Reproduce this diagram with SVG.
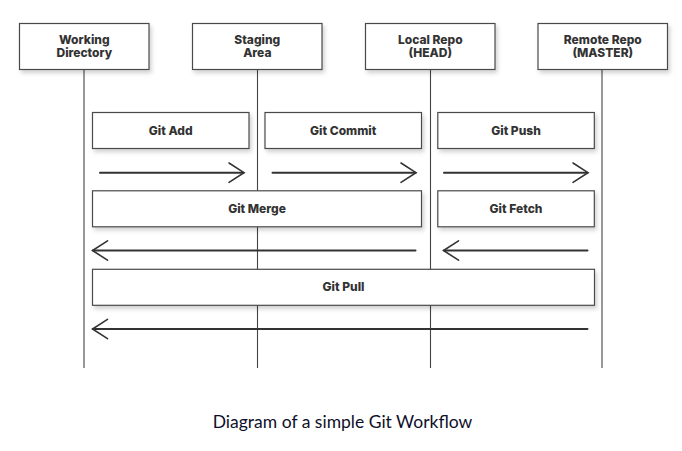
<svg xmlns="http://www.w3.org/2000/svg" width="682" height="451" viewBox="0 0 682 451">
<defs>
<filter id="sh" x="-10%" y="-30%" width="130%" height="180%">
<feDropShadow dx="2" dy="3" stdDeviation="2" flood-color="#000" flood-opacity="0.18"/>
</filter>
</defs>
<style>
.box{fill:#fff;stroke:#4a4a4a;stroke-width:1.2;filter:url(#sh)}
.t{font-family:Inter,"Liberation Sans",sans-serif;font-weight:800;font-size:12px;fill:#333;text-anchor:middle}
.life{stroke:#444;stroke-width:1.1;fill:none}
.arr{stroke:#333;stroke-width:2;fill:none;stroke-linecap:round}
.head{stroke:#333;stroke-width:1.6;fill:none;stroke-linecap:round;stroke-linejoin:miter}
.cap{font-family:Lato,"Open Sans",sans-serif;font-size:17.5px;fill:#0f0f2a;text-anchor:middle}
</style>
<rect width="682" height="451" fill="#fff"/>
<g id="lifelines">
<line class="life" x1="84" y1="69" x2="84" y2="368"/>
<line class="life" x1="257.5" y1="69" x2="257.5" y2="368"/>
<line class="life" x1="430.5" y1="69" x2="430.5" y2="368"/>
<line class="life" x1="602" y1="69" x2="602" y2="368"/>
</g>
<g id="working-directory">
<rect class="box" x="19.5" y="23.5" width="129.5" height="46"/>
<text class="t" x="84.3" y="43.6">Working</text>
<text class="t" x="84.3" y="57.2">Directory</text>
</g>
<g id="staging-area">
<rect class="box" x="192.5" y="23.5" width="129.5" height="46"/>
<text class="t" x="257.3" y="43.6">Staging</text>
<text class="t" x="257.3" y="57.2">Area</text>
</g>
<g id="local-repo">
<rect class="box" x="365.5" y="23.5" width="129.5" height="46"/>
<text class="t" x="430.3" y="43.6">Local Repo</text>
<text class="t" x="430.3" y="57.2">(HEAD)</text>
</g>
<g id="remote-repo">
<rect class="box" x="538" y="23.5" width="129.5" height="46"/>
<text class="t" x="602.8" y="43.6">Remote Repo</text>
<text class="t" x="602.8" y="57.2">(MASTER)</text>
</g>
<g id="git-add">
<rect class="box" x="92.5" y="112.5" width="156.5" height="36"/>
<text class="t" x="170.7" y="134.5">Git Add</text>
</g>
<g id="git-commit">
<rect class="box" x="265" y="112.5" width="156.5" height="36"/>
<text class="t" x="343.2" y="134.5">Git Commit</text>
</g>
<g id="git-push">
<rect class="box" x="437.8" y="112.5" width="156.5" height="36"/>
<text class="t" x="516" y="134.5">Git Push</text>
</g>
<g id="git-merge">
<rect class="box" x="92.5" y="190.8" width="329" height="36"/>
<text class="t" x="257" y="212.8">Git Merge</text>
</g>
<g id="git-fetch">
<rect class="box" x="437.8" y="190.8" width="156.5" height="36"/>
<text class="t" x="516" y="212.8">Git Fetch</text>
</g>
<g id="git-pull">
<rect class="box" x="92.5" y="269.3" width="502" height="36"/>
<text class="t" x="343.5" y="291.3">Git Pull</text>
</g>
<g id="connectors">
<line class="arr" x1="100" y1="172.7" x2="243.5" y2="172.7"/>
<polyline class="head" points="229,163 244,172.7 229,182.4"/>
<line class="arr" x1="272.5" y1="172.7" x2="415.5" y2="172.7"/>
<polyline class="head" points="401,163 416,172.7 401,182.4"/>
<line class="arr" x1="444" y1="172.7" x2="587.5" y2="172.7"/>
<polyline class="head" points="573,163 588,172.7 573,182.4"/>
<line class="arr" x1="93" y1="250.5" x2="415.5" y2="250.5"/>
<polyline class="head" points="107.5,240.8 92.5,250.5 107.5,260.2"/>
<line class="arr" x1="444" y1="250.5" x2="587.5" y2="250.5"/>
<polyline class="head" points="458.5,240.8 443.5,250.5 458.5,260.2"/>
<line class="arr" x1="93" y1="329" x2="587.5" y2="329"/>
<polyline class="head" points="107.5,319.3 92.5,329 107.5,338.7"/>
</g>
<text class="cap" x="342.5" y="428">Diagram of a simple Git Workflow</text>
</svg>
